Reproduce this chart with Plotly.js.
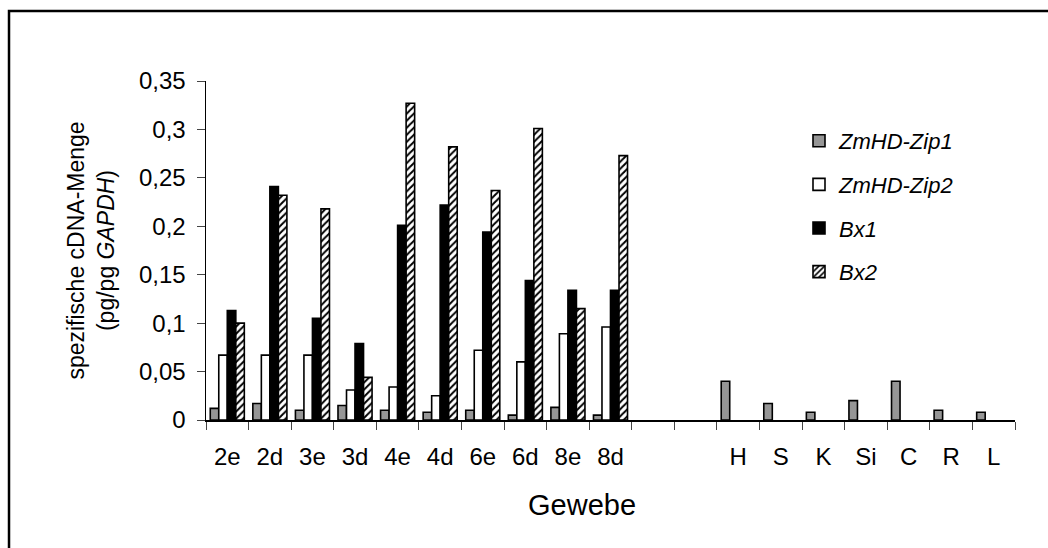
<!DOCTYPE html>
<html>
<head>
<meta charset="utf-8">
<script src="https://cdn.plot.ly/plotly-3.0.1.min.js"></script>
<style>
  html, body { margin: 0; padding: 0; background: #fff; }
  #chart { width: 1048px; height: 548px; }
</style>
</head>
<body>
<div id="chart"></div>
<script>
// Categories (tissues); two empty slots separate the groups
const categories = ["2e","2d","3e","3d","4e","4d","6e","6d","8e","8d","","","H","S","K","Si","C","R","L"];
const positions = categories.map((c, i) => i);

const seriesNames = ["ZmHD-Zip1", "ZmHD-Zip2", "Bx1", "Bx2"];

const zmhdZip1 = [0.012, 0.017, 0.010, 0.015, 0.010, 0.008, 0.010, 0.005, 0.013, 0.005, null, null, 0.040, 0.017, 0.008, 0.020, 0.040, 0.010, 0.008];
const zmhdZip2 = [0.067, 0.067, 0.067, 0.031, 0.034, 0.025, 0.072, 0.060, 0.089, 0.096, null, null, null, null, null, null, null, null, null];
const bx1      = [0.113, 0.241, 0.105, 0.079, 0.201, 0.222, 0.194, 0.144, 0.134, 0.134, null, null, null, null, null, null, null, null, null];
const bx2      = [0.100, 0.232, 0.218, 0.044, 0.327, 0.282, 0.237, 0.301, 0.115, 0.273, null, null, null, null, null, null, null, null, null];

const yTickVals = [0, 0.05, 0.1, 0.15, 0.2, 0.25, 0.3, 0.35];
const yTickText = ["0", "0,05", "0,1", "0,15", "0,2", "0,25", "0,3", "0,35"];

const FONT = "Liberation Sans, Arial, sans-serif";
const outline = { color: "#000", width: 1.6 };

const traces = [
  { name: seriesNames[0], y: zmhdZip1, marker: { color: "#969696", line: outline } },
  { name: seriesNames[1], y: zmhdZip2, marker: { color: "#ffffff", line: outline } },
  { name: seriesNames[2], y: bx1,      marker: { color: "#000000", line: outline } },
  { name: seriesNames[3], y: bx2,      marker: { color: "#ffffff", line: outline,
      pattern: { shape: "/", fgcolor: "#000", bgcolor: "#fff", size: 5, solidity: 0.4 } } }
].map((t, i) => Object.assign({
  type: "bar",
  x: positions,
  legendgroup: "g" + i,
  hoverinfo: "y+name"
}, t));

const boundaries = [];
for (let i = 0; i <= categories.length; i++) boundaries.push(i - 0.5);

const layout = {
  width: 1048,
  height: 548,
  margin: { l: 206, r: 33, t: 81, b: 128 },
  paper_bgcolor: "#fff",
  plot_bgcolor: "#fff",
  font: { family: FONT, color: "#000", size: 24 },
  barmode: "group",
  bargap: 0.2,
  bargroupgap: 0,
  showlegend: true,
  legend: {
    x: 0.733, y: 0.885, xanchor: "left", yanchor: "top",
    font: { family: FONT, size: 22, style: "italic" },
    tracegroupgap: 12,
    bgcolor: "rgba(0,0,0,0)"
  },
  xaxis: {
    range: [-0.5, categories.length - 0.5],
    tickmode: "array",
    tickvals: positions,
    ticktext: categories,
    ticks: "",
    ticklabelstandoff: 14,
    tickfont: { family: FONT, size: 24 },
    showline: true, linecolor: "#000", linewidth: 2,
    showgrid: false, zeroline: false,
    fixedrange: true,
    minor: { tickmode: "array", tickvals: boundaries, ticks: "outside", ticklen: 8, tickwidth: 1, tickcolor: "#444", showgrid: false }
  },
  yaxis: {
    range: [0, 0.35],
    tickmode: "array",
    tickvals: yTickVals,
    ticktext: yTickText,
    ticks: "outside", ticklen: 8, tickwidth: 1, tickcolor: "#444",
    ticklabelstandoff: 6,
    tickfont: { family: FONT, size: 24 },
    showline: true, linecolor: "#000", linewidth: 1.5,
    showgrid: false, zeroline: false,
    fixedrange: true,
    title: {
      text: "spezifische cDNA-Menge<br>(pg/pg <i>GAPDH</i>)",
      font: { family: FONT, size: 23 },
      standoff: 18
    }
  },
  annotations: [{
    text: "Gewebe",
    xref: "paper", yref: "paper",
    x: 0.4648, y: -0.252,
    xanchor: "center", yanchor: "middle",
    showarrow: false,
    font: { family: FONT, size: 29 }
  }],
  shapes: [{
    type: "rect", xref: "paper", yref: "paper",
    x0: -0.2435, x1: 1.06, y0: -0.45, y1: 1.2065,
    line: { color: "#000", width: 2.5 },
    fillcolor: "rgba(0,0,0,0)",
    layer: "below"
  }]
};

Plotly.newPlot("chart", traces, layout, { displayModeBar: false, staticPlot: true });
</script>
</body>
</html>
